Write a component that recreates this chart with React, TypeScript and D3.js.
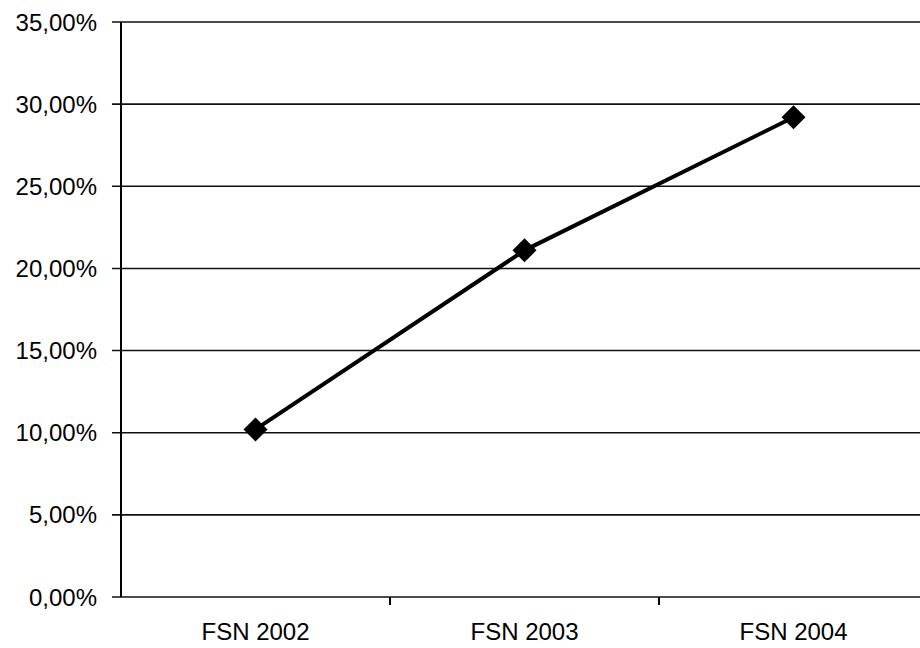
import React from "react";
import * as d3 from "d3";

const categories = ["FSN 2002", "FSN 2003", "FSN 2004"];
const values = [0.102, 0.211, 0.292];
const yTicks = [0, 0.05, 0.1, 0.15, 0.2, 0.25, 0.3, 0.35];

const W = 920;
const H = 648;
const left = 121;
const top = 22;
const bottom = 597;
const right = 928;

export default function App() {
  const x = d3.scaleBand<string>().domain(categories).range([left, right]);
  const y = d3.scaleLinear().domain([0, 0.35]).range([bottom, top]);
  const fmt = (v: number) => (v * 100).toFixed(2).replace(".", ",") + "%";
  const line = d3
    .line<number>()
    .x((_, i) => (x(categories[i]) as number) + x.bandwidth() / 2)
    .y((d) => y(d));
  const boundaries = categories.map((c) => (x(c) as number) + x.bandwidth());
  const font = "'Liberation Sans', Arial, sans-serif";

  return (
    <svg
      width={W}
      height={H}
      style={{ position: "absolute", left: 0, top: 0, background: "#fff" }}
    >
      {yTicks.map((t) => (
        <g key={t}>
          <line x1={left - 9} x2={right} y1={y(t)} y2={y(t)} stroke="#111" strokeWidth={1.6} />
          <text
            x={97}
            y={y(t)}
            dy="0.36em"
            textAnchor="end"
            fontFamily={font}
            fontSize={24}
            fill="#000"
          >
            {fmt(t)}
          </text>
        </g>
      ))}
      <line x1={left} x2={left} y1={top} y2={bottom} stroke="#000" strokeWidth={2} />
      {boundaries.map((b, i) => (
        <line key={i} x1={b} x2={b} y1={bottom} y2={bottom + 8} stroke="#000" strokeWidth={2} />
      ))}
      {categories.map((c) => (
        <text
          key={c}
          x={(x(c) as number) + x.bandwidth() / 2}
          y={640}
          textAnchor="middle"
          fontFamily={font}
          fontSize={24}
          fill="#000"
        >
          {c}
        </text>
      ))}
      <path d={line(values) as string} fill="none" stroke="#000" strokeWidth={4} />
      {values.map((v, i) => {
        const cx = (x(categories[i]) as number) + x.bandwidth() / 2;
        const cy = y(v);
        const s = 12;
        return (
          <path
            key={i}
            d={`M${cx},${cy - s}L${cx + s},${cy}L${cx},${cy + s}L${cx - s},${cy}Z`}
            fill="#000"
          />
        );
      })}
    </svg>
  );
}
